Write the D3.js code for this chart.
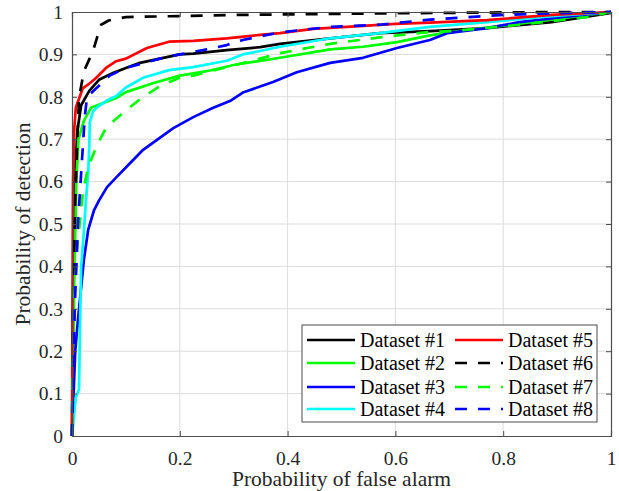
<!DOCTYPE html>
<html>
<head>
<meta charset="utf-8">
<script src="https://cdn.jsdelivr.net/npm/d3@7"></script>
<style>
  html, body { margin: 0; padding: 0; background: #fff; }
  svg { display: block; }
</style>
</head>
<body>
<svg id="chart" width="619" height="491"></svg>
<script>
// ROC curves: [probability of false alarm, probability of detection]
const ds1 = [[0,0],[0.002,0.3],[0.005,0.6],[0.01,0.72],[0.017,0.78],[0.032,0.814],[0.05,0.84],[0.076,0.856],[0.1,0.868],[0.126,0.88],[0.163,0.89],[0.2,0.9],[0.225,0.902],[0.287,0.91],[0.349,0.917],[0.386,0.925],[0.479,0.938],[0.571,0.95],[0.664,0.955],[0.77,0.962],[0.89,0.976],[1,0.998]];
const ds2 = [[0,0],[0.004,0.35],[0.008,0.6],[0.012,0.7],[0.022,0.743],[0.035,0.774],[0.057,0.785],[0.082,0.797],[0.1,0.811],[0.15,0.832],[0.2,0.85],[0.256,0.862],[0.3,0.875],[0.4,0.895],[0.479,0.912],[0.54,0.918],[0.603,0.929],[0.664,0.945],[0.707,0.953],[0.77,0.963],[0.863,0.978],[1,1]];
const ds3 = [[0,0],[0.003,0.1],[0.006,0.2],[0.011,0.274],[0.022,0.415],[0.03,0.486],[0.041,0.533],[0.05,0.555],[0.065,0.587],[0.083,0.611],[0.108,0.644],[0.132,0.675],[0.157,0.698],[0.188,0.726],[0.225,0.752],[0.262,0.774],[0.293,0.79],[0.317,0.81],[0.373,0.835],[0.417,0.858],[0.479,0.88],[0.54,0.892],[0.603,0.915],[0.664,0.934],[0.696,0.95],[0.77,0.962],[0.83,0.976],[0.89,0.985],[1,1]];
const ds4 = [[0,0],[0.007,0.09],[0.013,0.11],[0.015,0.27],[0.017,0.4],[0.022,0.48],[0.026,0.557],[0.03,0.62],[0.032,0.68],[0.033,0.74],[0.039,0.765],[0.045,0.774],[0.063,0.79],[0.082,0.802],[0.1,0.822],[0.132,0.845],[0.18,0.863],[0.225,0.87],[0.287,0.885],[0.317,0.9],[0.349,0.908],[0.386,0.918],[0.479,0.938],[0.571,0.95],[0.664,0.965],[0.77,0.976],[0.89,0.99],[1,1]];
const ds5 = [[0,0],[0.001,0.35],[0.002,0.6],[0.004,0.72],[0.007,0.774],[0.02,0.82],[0.033,0.832],[0.045,0.845],[0.063,0.868],[0.082,0.884],[0.1,0.89],[0.139,0.915],[0.18,0.93],[0.225,0.932],[0.287,0.938],[0.349,0.946],[0.386,0.95],[0.447,0.96],[0.51,0.965],[0.6,0.972],[0.664,0.975],[0.77,0.981],[0.89,0.993],[1,1]];
const ds6 = [[0,0],[0.002,0.3],[0.006,0.55],[0.01,0.7],[0.013,0.797],[0.022,0.86],[0.039,0.908],[0.048,0.946],[0.054,0.97],[0.068,0.98],[0.1,0.988],[0.3,0.993],[0.6,0.997],[0.9,1],[1,1]];
const ds7 = [[0,0],[0.003,0.3],[0.01,0.45],[0.017,0.533],[0.02,0.573],[0.03,0.635],[0.048,0.69],[0.063,0.726],[0.07,0.735],[0.098,0.766],[0.132,0.8],[0.163,0.825],[0.2,0.845],[0.225,0.85],[0.287,0.87],[0.349,0.89],[0.386,0.903],[0.479,0.925],[0.571,0.94],[0.664,0.953],[0.707,0.955],[0.83,0.97],[0.955,0.988],[1,1]];
const ds8 = [[0,0],[0.002,0.1],[0.005,0.3],[0.011,0.5],[0.016,0.6],[0.022,0.72],[0.024,0.757],[0.028,0.8],[0.045,0.82],[0.07,0.85],[0.1,0.868],[0.163,0.89],[0.195,0.899],[0.243,0.91],[0.287,0.922],[0.317,0.934],[0.386,0.952],[0.479,0.965],[0.571,0.97],[0.664,0.982],[0.8,0.993],[0.89,0.997],[1,1]];

const seriesNames = ["Dataset #1","Dataset #2","Dataset #3","Dataset #4","Dataset #5","Dataset #6","Dataset #7","Dataset #8"];
const seriesData = [ds1, ds2, ds3, ds4, ds5, ds6, ds7, ds8];
const seriesColors = ["#000000","#00ff00","#0000ff","#00ffff","#ff0000","#000000","#00ff00","#0000ff"];
const seriesDashed = [false,false,false,false,false,true,true,true];

const xTicks = [0, 0.2, 0.4, 0.6, 0.8, 1];
const yTicks = [0, 0.1, 0.2, 0.3, 0.4, 0.5, 0.6, 0.7, 0.8, 0.9, 1];
const xLabel = "Probability of false alarm";
const yLabel = "Probability of detection";

const W = 619, H = 491;
const margin = { left: 72, top: 12, right: 8, bottom: 55 };
const iw = W - margin.left - margin.right;
const ih = H - margin.top - margin.bottom;
const axisColor = "#4d4d4d";
const textColor = "#262626";
const serif = "'Liberation Serif', 'Times New Roman', 'DejaVu Serif', serif";
const dash = "12,11";

const svg = d3.select("#chart").attr("font-family", serif);
const g = svg.append("g").attr("transform", `translate(${margin.left},${margin.top})`);

const x = d3.scaleLinear().domain([0, 1]).range([0, iw]);
const y = d3.scaleLinear().domain([0, 1]).range([ih, 0]);

// grid
g.append("g").selectAll("line").data(xTicks.slice(1, -1)).join("line")
  .attr("x1", d => x(d)).attr("x2", d => x(d)).attr("y1", 0).attr("y2", ih)
  .attr("stroke", "#dcdcdc").attr("stroke-width", 1);
g.append("g").selectAll("line").data(yTicks.slice(1, -1)).join("line")
  .attr("y1", d => y(d)).attr("y2", d => y(d)).attr("x1", 0).attr("x2", iw)
  .attr("stroke", "#dcdcdc").attr("stroke-width", 1);

// curves
g.append("clipPath").attr("id", "plotclip").append("rect")
  .attr("x", -2).attr("y", -2).attr("width", iw + 4).attr("height", ih + 4);
const line = d3.line().x(d => x(d[0])).y(d => y(d[1]));
const curves = g.append("g").attr("clip-path", "url(#plotclip)");
seriesData.forEach((data, i) => {
  curves.append("path")
    .datum(data)
    .attr("d", line)
    .attr("fill", "none")
    .attr("stroke", seriesColors[i])
    .attr("stroke-width", 2.7)
    .attr("stroke-linejoin", "round")
    .attr("stroke-dasharray", seriesDashed[i] ? dash : null);
});

// axes (box with inward ticks on all four sides)
const fmt = d => (d === 0 || d === 1) ? String(d) : d3.format(".1f")(d);
const xAxis = d3.axisBottom(x).tickValues(xTicks).tickSize(-5).tickPadding(15).tickFormat(fmt);
const yAxis = d3.axisLeft(y).tickValues(yTicks).tickSize(-5).tickPadding(9).tickFormat(fmt);
const xTop = d3.axisTop(x).tickValues(xTicks).tickSize(-5).tickFormat("");
const yRight = d3.axisRight(y).tickValues(yTicks).tickSize(-5).tickFormat("");

function styleAxis(sel) {
  sel.attr("font-family", serif);
  sel.select(".domain").attr("stroke", axisColor).attr("stroke-width", 1.2);
  sel.selectAll(".tick line").attr("stroke", axisColor);
  sel.selectAll(".tick text")
    .style("font-family", serif).style("font-size", "19.5px").attr("fill", textColor);
}
g.append("g").attr("transform", `translate(0,${ih})`).call(xAxis).call(styleAxis);
g.append("g").call(yAxis).call(styleAxis);
g.append("g").call(xTop).call(styleAxis);
g.append("g").attr("transform", `translate(${iw},0)`).call(yRight).call(styleAxis);

// axis titles
svg.append("text").attr("x", margin.left + iw / 2).attr("y", 486)
  .attr("text-anchor", "middle").attr("fill", textColor)
  .style("font-family", serif).style("font-size", "21.5px").text(xLabel);
svg.append("text")
  .attr("transform", `translate(30,${margin.top + ih / 2}) rotate(-90)`)
  .attr("text-anchor", "middle").attr("fill", textColor)
  .style("font-family", serif).style("font-size", "21.5px").text(yLabel);

// legend
const lg = svg.append("g");
const lx = 302, ly = 325, lw = 295, lh = 97;
lg.append("rect").attr("x", lx).attr("y", ly).attr("width", lw).attr("height", lh)
  .attr("fill", "#fff").attr("stroke", axisColor).attr("stroke-width", 1);
const rowY = [340, 363, 387, 409];
const colX = [307, 455];
seriesNames.forEach((name, i) => {
  const col = Math.floor(i / 4), row = i % 4;
  const cx = colX[col], cy = rowY[row];
  lg.append("line").attr("x1", cx).attr("x2", cx + 48).attr("y1", cy).attr("y2", cy)
    .attr("stroke", seriesColors[i]).attr("stroke-width", 2.7)
    .attr("stroke-dasharray", seriesDashed[i] ? dash : null);
  lg.append("text").attr("x", cx + 53).attr("y", cy + 7).attr("fill", "#000")
    .style("font-family", serif).style("font-size", "20px").text(name);
});
</script>
</body>
</html>
